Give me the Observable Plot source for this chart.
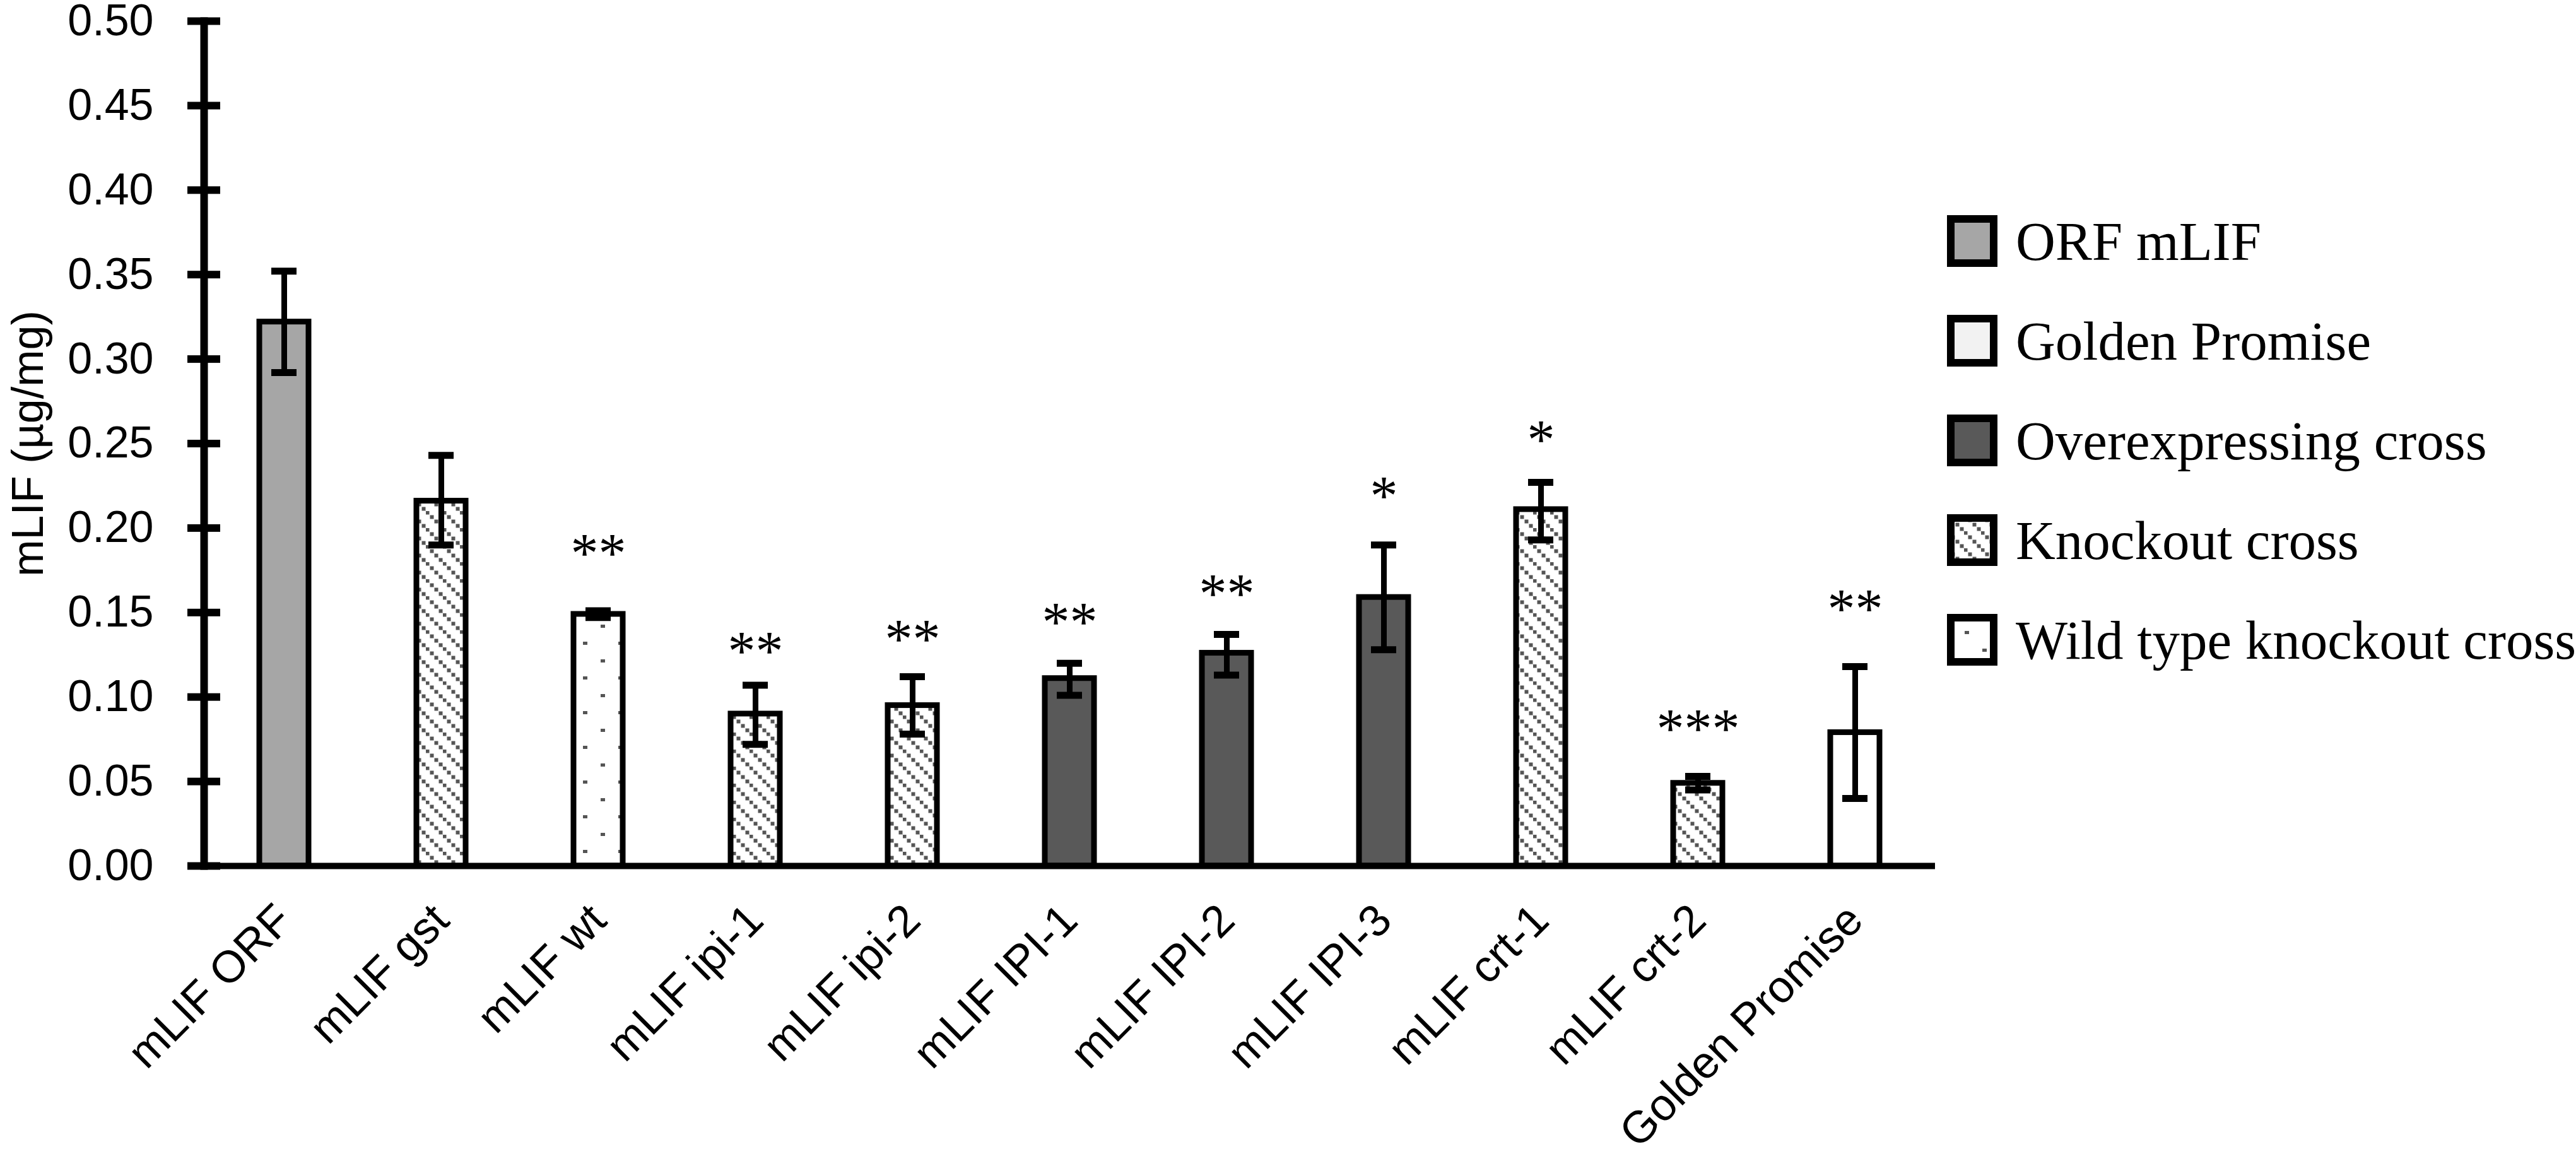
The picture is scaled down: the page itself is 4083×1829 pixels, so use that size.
<!DOCTYPE html>
<html><head><meta charset="utf-8">
<script src="https://cdn.jsdelivr.net/npm/d3@7"></script>
<script src="https://cdn.jsdelivr.net/npm/@observablehq/plot@0.6"></script>
<style>
body{margin:0;background:#fff;}
#wrap{position:relative;width:4083px;height:1829px;background:#fff;}
#legend{position:absolute;left:3086px;top:341px;font-family:"Liberation Serif","Times New Roman",serif;font-size:87px;color:#000;}
.row{display:flex;align-items:center;height:82px;margin-bottom:76px;white-space:nowrap;}
.row svg{flex:none;margin-right:29px;}
</style></head>
<body><div id="wrap"><div id="legend"></div></div>
<script>
const categories = ["mLIF ORF","mLIF gst","mLIF wt","mLIF ipi-1","mLIF ipi-2","mLIF IPI-1","mLIF IPI-2","mLIF IPI-3","mLIF crt-1","mLIF crt-2","Golden Promise"];
const values  = [0.322, 0.216, 0.149, 0.090, 0.095, 0.111, 0.126, 0.159, 0.211, 0.049, 0.079];
const errLow  = [0.292, 0.190, 0.147, 0.072, 0.078, 0.101, 0.113, 0.128, 0.193, 0.045, 0.040];
const errHigh = [0.352, 0.243, 0.151, 0.107, 0.112, 0.120, 0.137, 0.190, 0.227, 0.053, 0.118];
const groups  = ["ORF mLIF","Knockout cross","Wild type knockout cross","Knockout cross","Knockout cross","Overexpressing cross","Overexpressing cross","Overexpressing cross","Knockout cross","Knockout cross","Golden Promise"];
const stars   = ["","","**","**","**","**","**","*","*","***","**"];
const starY   = [0, 0, 0.190, 0.132, 0.139, 0.149, 0.166, 0.224, 0.257, 0.086, 0.157];
const yTicks  = [0, 0.05, 0.10, 0.15, 0.20, 0.25, 0.30, 0.35, 0.40, 0.45, 0.50];
const legendGroups = ["ORF mLIF","Golden Promise","Overexpressing cross","Knockout cross","Wild type knockout cross"];
const barFills     = ["#a6a6a6","#ffffff","#595959","url(#ko)","url(#wt)"];
const legendFills  = ["#a6a6a6","#f2f2f2","#595959","url(#ko)","url(#wt)"];

const data = categories.map((c, i) => ({c, v: values[i], lo: errLow[i], hi: errHigh[i], g: groups[i], s: stars[i], sy: starY[i]}));

const chart = Plot.plot({
  width: 4083, height: 1829,
  marginLeft: 323, marginRight: 1016, marginTop: 33, marginBottom: 457,
  style: {fontFamily: "'Liberation Sans', Arial, sans-serif", fontSize: "70px", background: "#fff", color: "#000", overflow: "visible"},
  x: {domain: categories, paddingInner: 0.687, paddingOuter: 0.3435, label: null},
  y: {domain: [0, 0.5], label: null},
  color: {domain: legendGroups, range: barFills},
  marks: [
    Plot.barY(data, {x: "c", y: "v", fill: "g", stroke: "#000", strokeWidth: 9}),
    Plot.ruleX(data, {x: "c", y1: "lo", y2: "hi", stroke: "#000", strokeWidth: 9}),
    Plot.tickY(data, {x: "c", y: "lo", stroke: "#000", strokeWidth: 11, insetLeft: 19, insetRight: 19}),
    Plot.tickY(data, {x: "c", y: "hi", stroke: "#000", strokeWidth: 11, insetLeft: 19, insetRight: 19}),
    Plot.text(data, {x: "c", y: "sy", text: "s", fontFamily: "'Liberation Serif', 'Times New Roman', serif", fontSize: 88, lineAnchor: "bottom", dy: 42, fill: "#000"}),
    Plot.frame({anchor: "left", stroke: "#000", strokeWidth: 12}),
    Plot.ruleY([0], {stroke: "#000", strokeWidth: 10, insetLeft: -26}),
    Plot.axisY({ticks: yTicks, tickFormat: d3.format(".2f"), tickSize: 26, tickPadding: 54, stroke: "#000", strokeWidth: 12, fontSize: 70, label: "mLIF (µg/mg)", labelArrow: "none", labelAnchor: "center", labelOffset: 305}),
    Plot.axisY({ticks: yTicks, tickSize: -26, stroke: "#000", strokeWidth: 12, fill: "none", label: null}),
    Plot.axisX({tickRotate: -45, tickSize: 0, tickPadding: 74, fontSize: 71, label: null})
  ]
});

const defs = d3.select(chart).insert("defs", ":first-child");
const ko = defs.append("pattern").attr("id", "ko").attr("patternUnits", "userSpaceOnUse").attr("width", 27).attr("height", 27);
ko.append("rect").attr("width", 27).attr("height", 27).attr("fill", "#fff");
[0, 7, 14, 21].forEach(k => ko.append("rect").attr("x", k - 0.5).attr("y", k - 0.5).attr("width", 6).attr("height", 6).attr("fill", "#555"));
ko.append("rect").attr("x", 26.5).attr("y", 26.5).attr("width", 6).attr("height", 6).attr("fill", "#555");
const wt = defs.append("pattern").attr("id", "wt").attr("patternUnits", "userSpaceOnUse").attr("width", 56).attr("height", 55);
wt.append("rect").attr("width", 56).attr("height", 55).attr("fill", "#fff");
wt.append("rect").attr("x", 0).attr("y", 0).attr("width", 7).attr("height", 5).attr("fill", "#555");
wt.append("rect").attr("x", 28).attr("y", 27).attr("width", 7).attr("height", 5).attr("fill", "#555");

const wrap = document.getElementById("wrap");
wrap.insertBefore(chart, wrap.firstChild);

const legend = d3.select("#legend");
legendGroups.forEach((g, i) => {
  const row = legend.append("div").attr("class", "row");
  const sw = row.append("svg").attr("width", 80).attr("height", 82);
  sw.append("rect").attr("x", 6).attr("y", 6).attr("width", 68).attr("height", 70)
    .attr("fill", legendFills[i]).attr("stroke", "#000").attr("stroke-width", 12);
  row.append("span").text(g);
});
</script>
</body></html>
